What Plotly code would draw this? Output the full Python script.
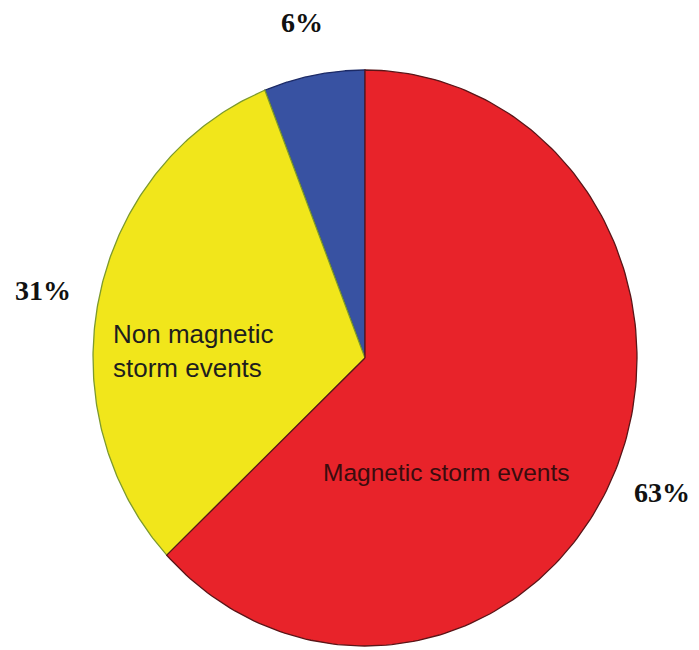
import numpy as np
import plotly.graph_objects as go

# Share of events (percent), in drawing order counter-clockwise from 12 o'clock
slice_names = ["", "Non magnetic<br>storm events", "Magnetic storm events"]
slice_values = [6, 31, 63]
slice_colors = ["#3852A2", "#F1E61B", "#E8232A"]
edge_colors = ["#1C2A66", "#7C9A2E", "#5A1518"]

W, H = 699, 650
# pie centre and radii in pixels (the axes stretch the unit circle into an ellipse)
cx, cy, rx, ry = 365, 358, 272, 288

fig = go.Figure()

cum = 0.0
for name, val, col, edge in zip(slice_names, slice_values, slice_colors, edge_colors):
    a0 = np.pi / 2 + 2 * np.pi * cum / 100.0
    a1 = np.pi / 2 + 2 * np.pi * (cum + val) / 100.0
    t = np.linspace(a0, a1, 200)
    xs = np.concatenate([[0.0], np.cos(t), [0.0]])
    ys = np.concatenate([[0.0], np.sin(t), [0.0]])
    fig.add_trace(go.Scatter(
        x=xs, y=ys, mode="lines", fill="toself",
        fillcolor=col, line=dict(color=edge, width=1.3),
        hoverinfo="skip", showlegend=False,
    ))
    cum += val

# percentage labels outside the pie (pixel positions -> paper coords)
pct_pos = [(302, 22), (43, 290), (662, 493)]
for val, (px, py) in zip(slice_values, pct_pos):
    fig.add_annotation(
        x=px / W, y=1 - py / H, xref="paper", yref="paper",
        text=f"<b>{val}%</b>", showarrow=False, xanchor="center", yanchor="middle",
        font=dict(family="Liberation Serif, Times New Roman, serif", size=28, color="#111111"),
    )

# category labels inside the slices
name_pos = [None, (111, 351, "#1E1E1E", 26), (321, 472, "#3A0C0E", 24.5)]
for name, pos in zip(slice_names, name_pos):
    if not name or pos is None:
        continue
    px, py, c, fs = pos
    fig.add_annotation(
        x=px / W, y=1 - py / H, xref="paper", yref="paper",
        text=name, showarrow=False, xanchor="left", yanchor="middle", align="left",
        font=dict(family="Liberation Sans, Arial, sans-serif", size=fs, color=c),
    )

x0 = -cx / rx
x1 = x0 + W / rx
y1 = cy / ry
y0 = y1 - H / ry

fig.update_layout(
    width=W, height=H,
    margin=dict(l=0, r=0, t=0, b=0),
    paper_bgcolor="white", plot_bgcolor="white",
    xaxis=dict(range=[x0, x1], visible=False, fixedrange=True),
    yaxis=dict(range=[y0, y1], visible=False, fixedrange=True),
    showlegend=False,
)

fig.write_html("out.html")
